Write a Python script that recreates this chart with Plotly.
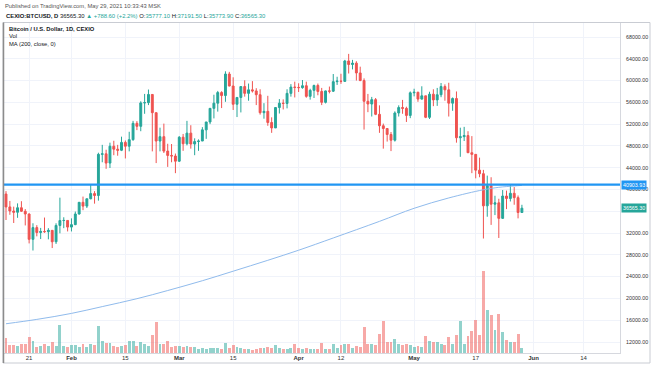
import plotly.graph_objects as go
import pandas as pd

# ---------------- data ----------------
dates = pd.date_range("2021-01-15", "2021-05-29", freq="D")

opens = [39160, 36800, 36050, 35820, 36650, 36000, 35500, 30850, 33000, 32100,
         32300, 32250, 32500, 30400, 33400, 34300, 34320, 33100, 33550, 35500,
         37650, 36950, 38300, 39250, 38900, 46450, 46550, 44850, 47950, 47400,
         47200, 48650, 47950, 49150, 52150, 51600, 55900, 55950, 57450, 54100,
         48900, 49700, 47050, 46250, 46150, 45200, 49600, 48400, 50350, 48350,
         48800, 48900, 50950, 52400, 54900, 55850, 57800, 57250, 61200, 59000,
         55650, 56900, 58900, 57650, 58300, 58100, 57400, 54100, 54350, 52300,
         51300, 55050, 55850, 55800, 57650, 58800, 58750, 58700, 59050, 57100,
         58200, 59100, 58000, 56000, 58100, 58050, 59800, 59900, 59850, 63600,
         62950, 63200, 61400, 60000, 56200, 55700, 56500, 53800, 51700, 51200,
         50100, 49050, 54050, 55050, 54900, 53600, 57750, 57850, 56600, 57200,
         53250, 57500, 56450, 57400, 58900, 58300, 55850, 56700, 49500, 49700,
         49900, 46750, 46450, 43550, 42900, 37000, 40700, 37300, 37550, 34700,
         38800, 38350, 39300, 38500, 35777.1]
highs = [39700, 37900, 36850, 37450, 37850, 36400, 35600, 33800, 33450, 32950,
         34850, 32900, 32550, 33800, 38500, 34900, 34320, 34700, 35950, 37700,
         38700, 38300, 40950, 39700, 46750, 48200, 47300, 48600, 48950, 48200,
         49700, 49000, 50600, 52600, 52550, 56200, 57550, 58350, 57500, 54150,
         51350, 52100, 48400, 48350, 46600, 49800, 50200, 52600, 51800, 49400,
         49200, 51450, 52400, 54900, 57400, 58100, 58050, 61700, 61600, 60600,
         56900, 58950, 60050, 59450, 59900, 58600, 58400, 55850, 57200, 53250,
         55100, 56600, 56550, 58400, 59350, 59800, 59500, 60100, 59800, 58500,
         59250, 59450, 58650, 58150, 58900, 61200, 60700, 61250, 63800, 64900,
         63800, 63550, 62550, 60400, 57550, 57000, 56800, 55450, 52100, 51200,
         50550, 54350, 55450, 56450, 55200, 58000, 58500, 57950, 58950, 57200,
         57950, 58400, 58650, 59550, 59300, 59600, 56900, 58000, 51350, 51500,
         50700, 49800, 46500, 45850, 43600, 42550, 42250, 38850, 38300, 39900,
         39800, 40850, 40450, 38900, 37191.5]
lows = [34400, 35350, 33850, 34800, 35900, 33400, 30100, 28800, 31400, 30900,
        32050, 30850, 29250, 30000, 31950, 32900, 32300, 32300, 33450, 35400,
        36200, 36600, 38200, 37400, 37950, 45000, 43800, 43950, 46300, 46200,
        47050, 45700, 47000, 48950, 50900, 50700, 53900, 55500, 47000, 44850,
        47000, 46700, 44150, 45000, 43000, 45050, 47100, 48100, 47500, 46300,
        47100, 48900, 49300, 52000, 53050, 54300, 54950, 56100, 58950, 54600,
        53300, 54150, 57050, 56300, 57800, 55500, 53750, 53000, 51700, 50400,
        51300, 53950, 54700, 54900, 57050, 56900, 57900, 58500, 56850, 56500,
        56800, 57300, 55500, 55800, 57650, 57900, 59200, 59400, 59850, 61300,
        62050, 60000, 59900, 51000, 54200, 53400, 53650, 50400, 47500, 48800,
        47050, 48800, 53400, 53900, 52400, 53100, 57100, 56100, 56500, 53100,
        52950, 55300, 55350, 56950, 56300, 53400, 54450, 48600, 46000, 48900,
        46700, 43000, 42050, 42250, 31000, 35000, 33500, 35300, 31100, 34600,
        36400, 37800, 37200, 34700, 35773.9]
closes = [36800, 36050, 35820, 36650, 36000, 35500, 30850, 33000, 32100, 32300,
          32250, 32500, 30400, 33400, 34300, 34320, 33100, 33550, 35500, 37650,
          36950, 38300, 39250, 38900, 46450, 46550, 44850, 47950, 47400, 47200,
          48650, 47950, 49150, 52150, 51600, 55900, 55950, 57450, 54100, 48900,
          49700, 47050, 46250, 46150, 45200, 49600, 48400, 50350, 48350, 48800,
          48900, 50950, 52400, 54900, 55850, 57800, 57250, 61200, 59000, 55650,
          56900, 58900, 57650, 58300, 58100, 57400, 54100, 54350, 52300, 51300,
          55050, 55850, 55800, 57650, 58800, 58750, 58700, 59050, 57100, 58200,
          59100, 58000, 56000, 58100, 58050, 59800, 59900, 59850, 63600, 62950,
          63200, 61400, 60000, 56200, 55700, 56500, 53800, 51700, 51200, 50100,
          49050, 54050, 55050, 54900, 53600, 57750, 57850, 56600, 57200, 53250,
          57500, 56450, 57400, 58900, 58300, 55850, 56700, 49500, 49700, 49900,
          46750, 46450, 43550, 42900, 37000, 40700, 37300, 37550, 34700, 38800,
          38350, 39300, 38500, 35777.1, 36565.3]
volumes = [1500, 830, 830, 670, 930, 930, 1600, 1230, 570, 670,
           930, 730, 1070, 730, 2840, 670, 570, 770, 770, 570,
           930, 570, 930, 770, 2740, 1230, 1000, 1000, 730, 570,
           670, 830, 1230, 1170, 730, 1070, 900, 670, 1830, 3100,
           930, 930, 1230, 570, 730, 730, 570, 670, 570, 570,
           450, 500, 400, 500, 550, 500, 450, 1000, 550, 800,
           600, 500, 450, 400, 350, 400, 550, 500, 600, 550,
           800, 500, 400, 450, 500, 900, 500, 450, 500, 400,
           450, 400, 1000, 400, 400, 900, 500, 800, 950, 950,
           500, 700, 650, 2570, 950, 950, 800, 1900, 3170, 1070,
           1070, 1400, 900, 800, 900, 800, 650, 730, 650, 1730,
           1230, 1070, 1070, 940, 840, 1570, 930, 1830, 3170, 930,
           1670, 2170, 3330, 1770, 8240, 4270, 3770, 2340, 3940, 2070,
           1340, 1100, 1070, 1900, 500]

ma_dates = ["2021-01-15", "2021-01-23", "2021-02-01", "2021-02-09", "2021-02-18",
            "2021-02-26", "2021-03-07", "2021-03-15", "2021-03-24", "2021-04-01",
            "2021-04-10", "2021-04-22", "2021-05-01", "2021-05-10", "2021-05-19",
            "2021-05-23", "2021-05-27", "2021-05-29"]
ma_values = [15350, 16150, 17250, 18500, 19950, 21450, 23250, 25000, 27000, 28850,
             31100, 34150, 36550, 38450, 39950, 40400, 40650, 40750]

x_tick_dates = ["2021-01-21", "2021-02-01", "2021-02-15", "2021-03-01", "2021-03-15",
                "2021-04-01", "2021-04-12", "2021-05-01", "2021-05-17", "2021-06-01",
                "2021-06-14"]
x_tick_labels = ["21", "<b>Feb</b>", "15", "<b>Mar</b>", "15", "<b>Apr</b>", "12",
                 "<b>May</b>", "17", "<b>Jun</b>", "14"]
y_tick_values = list(range(12000, 68001, 4000))
y_tick_labels = ["" if v == 36000 else f"{v:.2f}" for v in y_tick_values]

level_price = 40903.93
last_price = 36565.30

# ---------------- styling ----------------
UP = "#26a69a"
DOWN = "#ef5350"
VOL_UP = "rgba(38,166,154,0.5)"
VOL_DOWN = "rgba(239,83,80,0.5)"
FONT = "Liberation Sans, Arial, sans-serif"
TXT = "#131722"
GRID = "#f0f3fa"

# pixel helpers (plot area: x 4..620, y 23..353)
L, R, T, B = 4, 34, 23, 13
W, H = 654, 366
PW, PH = W - L - R, H - T - B


def px(x):
    return (x - L) / PW


def py(y):
    return (H - B - y) / PH


vol_colors = [VOL_UP if c >= o else VOL_DOWN for o, c in zip(opens, closes)]

fig = go.Figure()

fig.add_trace(go.Bar(
    x=dates, y=volumes, marker=dict(color=vol_colors, line=dict(width=0)),
    width=0.75 * 86400000, yaxis="y2", hoverinfo="skip", showlegend=False))

fig.add_trace(go.Scatter(
    x=pd.to_datetime(ma_dates), y=ma_values, mode="lines",
    line=dict(color="#90bbec", width=1, shape="spline"), showlegend=False))

fig.add_trace(go.Candlestick(
    x=dates, open=opens, high=highs, low=lows, close=closes,
    increasing=dict(line=dict(color=UP, width=1), fillcolor=UP),
    decreasing=dict(line=dict(color=DOWN, width=1), fillcolor=DOWN),
    whiskerwidth=0, showlegend=False))

fig.update_layout(
    width=W, height=H,
    margin=dict(l=L, r=R, t=T, b=B, pad=0),
    paper_bgcolor="white", plot_bgcolor="white",
    font=dict(family=FONT, size=6, color=TXT),
    showlegend=False,
    bargap=0,
    xaxis=dict(
        type="date",
        range=["2021-01-14 11:30", "2021-06-23 11:30"],
        tickvals=x_tick_dates, ticktext=x_tick_labels,
        tickfont=dict(size=6, color="#333"),
        showgrid=True, gridcolor=GRID, gridwidth=1,
        showline=True, linecolor="#d6d8de", linewidth=1,
        ticks="", zeroline=False, ticklabelstandoff=-1,
        rangeslider=dict(visible=False),
    ),
    yaxis=dict(
        side="right",
        range=[9980, 70570],
        tickvals=y_tick_values, ticktext=y_tick_labels,
        tickfont=dict(size=5.3, color="#333"),
        showgrid=True, gridcolor=GRID, gridwidth=1,
        showline=True, linecolor="#d6d8de", linewidth=1,
        ticks="", zeroline=False, ticklabelstandoff=4,
    ),
    yaxis2=dict(
        overlaying="y", range=[0, 33000], visible=False, showgrid=False,
        fixedrange=True,
    ),
)

# horizontal level line
fig.add_shape(type="line", xref="paper", yref="y", x0=0, x1=1,
              y0=level_price, y1=level_price,
              line=dict(color="#2196f3", width=2.2))

# frame
fig.add_shape(type="rect", xref="paper", yref="paper",
              x0=px(3), x1=px(650), y0=py(363), y1=py(22.5),
              line=dict(color="#c9ccd3", width=1), layer="above")
fig.add_shape(type="line", xref="paper", yref="paper",
              x0=px(3.5), x1=px(3.5), y0=py(363), y1=py(22.5),
              line=dict(color="#8c8c8c", width=1.5), layer="above")

# price labels on the axis
for val, col in [(level_price, "#2196f3"), (last_price, UP)]:
    fig.add_annotation(xref="paper", yref="y", x=1, y=val, xanchor="left",
                       yanchor="middle", xshift=1, showarrow=False,
                       text=f"{val:.2f}", bgcolor=col, borderpad=1,
                       font=dict(size=5.3, color="white", family=FONT))

# header texts
fig.add_annotation(xref="paper", yref="paper", x=px(3), y=py(6.5), xanchor="left",
                   yanchor="middle", showarrow=False,
                   text="Published on TradingView.com, May 29, 2021 10:33:43 MSK",
                   font=dict(size=5.8, color="#555"))
G = "#26a69a"
hdr2 = (f"<b>CEXIO:BTCUSD, D</b> 36565.30 <span style='color:{G}'>▲ +788.60 (+2.2%)</span> "
        f"O:<span style='color:{G}'>35777.10</span> H:<span style='color:{G}'>37191.50</span> "
        f"L:<span style='color:{G}'>35773.90</span> C:<span style='color:{G}'>36565.30</span>")
fig.add_annotation(xref="paper", yref="paper", x=px(4), y=py(15.5), xanchor="left",
                   yanchor="middle", showarrow=False, text=hdr2,
                   font=dict(size=5.9, color=TXT))

legend_lines = [("<b>Bitcoin / U.S. Dollar, 1D, CEXIO</b>", 29.5),
                ("Vol", 36.5), ("MA (200, close, 0)", 43.5)]
for txt, yy in legend_lines:
    fig.add_annotation(xref="paper", yref="paper", x=px(7), y=py(yy), xanchor="left",
                       yanchor="middle", showarrow=False, text=txt,
                       font=dict(size=5.8, color=TXT))

fig.write_html("out.html", config={"displayModeBar": False},
               post_script="document.body.style.margin='0';document.body.style.overflow='hidden';")
